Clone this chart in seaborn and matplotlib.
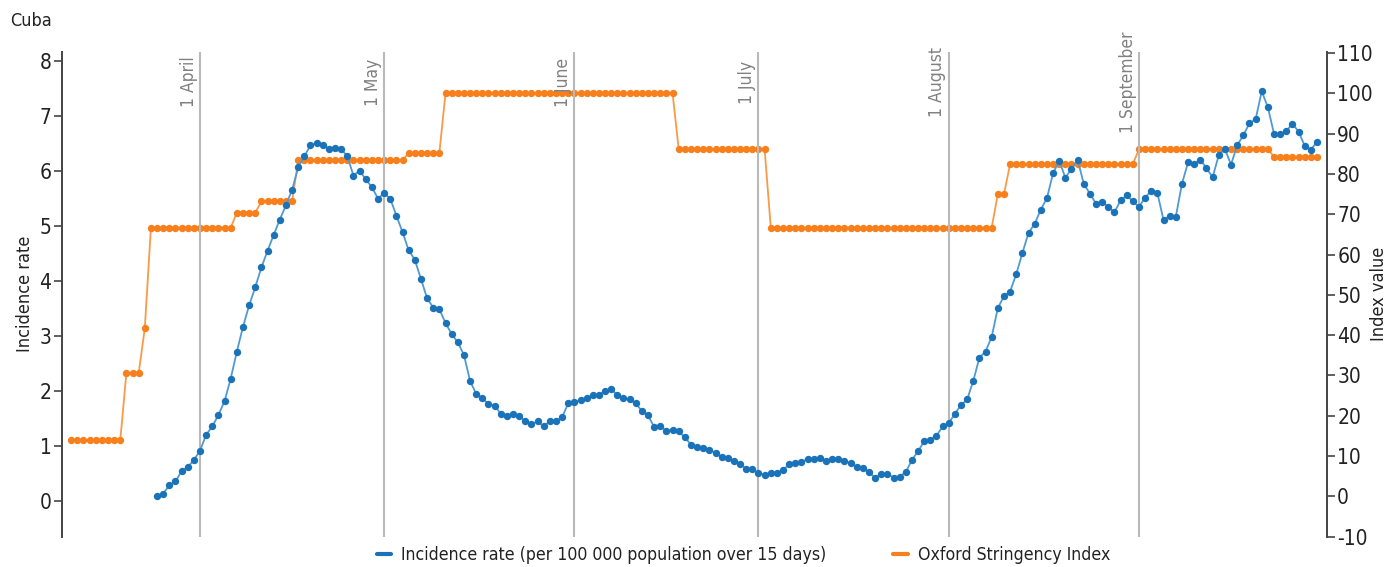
import pandas as pd
import numpy as np
import matplotlib
matplotlib.use("Agg")
import matplotlib.pyplot as plt
import matplotlib.transforms as mtransforms
from matplotlib.lines import Line2D
import seaborn as sns

# incidence rate per 100 000 over 15 days, daily from 25 March
incidence = [
    0.10, 0.14, 0.29, 0.36, 0.55, 0.62, 0.75, 0.92, 1.21, 1.36,
    1.57, 1.82, 2.23, 2.72, 3.17, 3.56, 3.89, 4.25, 4.55, 4.84,
    5.12, 5.38, 5.66, 6.07, 6.27, 6.47, 6.51, 6.48, 6.41, 6.42,
    6.40, 6.27, 5.92, 6.01, 5.85, 5.71, 5.50, 5.60, 5.50, 5.19,
    4.89, 4.56, 4.39, 4.04, 3.69, 3.52, 3.49, 3.24, 3.04, 2.89,
    2.66, 2.19, 1.95, 1.87, 1.77, 1.74, 1.59, 1.55, 1.58, 1.55,
    1.45, 1.40, 1.45, 1.36, 1.46, 1.45, 1.53, 1.78, 1.81, 1.84,
    1.87, 1.93, 1.93, 2.01, 2.04, 1.93, 1.87, 1.85, 1.78, 1.64,
    1.56, 1.35, 1.36, 1.28, 1.30, 1.27, 1.16, 1.03, 0.98, 0.97,
    0.94, 0.88, 0.80, 0.79, 0.73, 0.68, 0.59, 0.58, 0.51, 0.48,
    0.52, 0.52, 0.57, 0.67, 0.70, 0.71, 0.77, 0.76, 0.79, 0.73,
    0.76, 0.76, 0.73, 0.69, 0.63, 0.61, 0.54, 0.42, 0.50, 0.50,
    0.43, 0.45, 0.53, 0.75, 0.91, 1.09, 1.12, 1.19, 1.36, 1.42,
    1.59, 1.75, 1.85, 2.19, 2.61, 2.72, 2.99, 3.51, 3.73, 3.81,
    4.13, 4.51, 4.88, 5.04, 5.30, 5.51, 5.96, 6.19, 5.88, 6.04,
    6.21, 5.77, 5.59, 5.41, 5.44, 5.35, 5.25, 5.47, 5.56, 5.45,
    5.35, 5.52, 5.64, 5.60, 5.11, 5.19, 5.17, 5.77, 6.16, 6.13,
    6.21, 6.05, 5.89, 6.29, 6.40, 6.12, 6.47, 6.65, 6.87, 6.94,
    7.45, 7.16, 6.68, 6.67, 6.73, 6.86, 6.72, 6.46, 6.39, 6.53,
]
incidence_start = "2020-03-25"

# Oxford stringency index, daily from 11 March, as (level, number of days)
stringency_levels = [13.89, 30.56, 41.67, 66.67, 70.37, 73.15, 83.33, 85.19,
                     100.0, 86.11, 66.67, 75.00, 82.41, 86.11, 84.26]
stringency_days = [9, 3, 1, 14, 4, 6, 18, 6, 38, 15, 37, 2, 21, 22, 8]
stringency_start = "2020-03-11"

month_starts = ["2020-04-01", "2020-05-01", "2020-06-01",
                "2020-07-01", "2020-08-01", "2020-09-01"]
month_labels = ["1 April", "1 May", "1 June", "1 July", "1 August", "1 September"]

inc_df = pd.DataFrame({
    "date": pd.date_range(incidence_start, periods=len(incidence), freq="D"),
    "value": incidence,
})
osi = np.repeat(stringency_levels, stringency_days)
osi_df = pd.DataFrame({
    "date": pd.date_range(stringency_start, periods=len(osi), freq="D"),
    "value": osi,
})

sns.set_style("white")
plt.rcParams["font.family"] = ["DejaVu Sans"]
plt.rcParams["font.stretch"] = "condensed"
plt.rcParams["axes.unicode_minus"] = False

blue = "#1a73b9"
blue_line = "#4f9ad4"
orange = "#f7801d"
orange_line = "#f99a48"
txt = "#222222"

fig = plt.figure(figsize=(13.95, 5.67), dpi=100)
ax = fig.add_axes([0.0444, 0.0534, 0.9067, 0.8554])
ax2 = ax.twinx()

sns.lineplot(data=osi_df, x="date", y="value", ax=ax2, color=orange_line, lw=1.3,
             marker="o", markersize=5.3, markerfacecolor=orange, markeredgecolor=orange,
             markeredgewidth=0)
sns.lineplot(data=inc_df, x="date", y="value", ax=ax, color=blue_line, lw=1.3,
             marker="o", markersize=5.3, markerfacecolor=blue, markeredgecolor=blue,
             markeredgewidth=0)

# put the incidence series above the index series
ax.set_zorder(ax2.get_zorder() + 1)
ax.patch.set_visible(False)

trans = mtransforms.blended_transform_factory(ax.transData, ax.transAxes)
for d, lab in zip(month_starts, month_labels):
    ax.axvline(pd.Timestamp(d), color="#b9b9b9", lw=1.5, zorder=0)
    ax.text(pd.Timestamp(d) - pd.Timedelta(days=0.4), 0.9375, lab, transform=trans,
            rotation=90, ha="right", va="center", color="#808080", fontsize=12.5)

ax.set_xlim(pd.Timestamp("2020-04-01") - pd.Timedelta(days=22.5),
            pd.Timestamp("2020-04-01") + pd.Timedelta(days=183.6))
ax.set_ylim(-0.644, 8.17)
ax2.set_ylim(-10, 110.3)
ax.set_yticks(range(0, 9))
ax2.set_yticks(range(-10, 111, 10))
ax.set_xticks([])
ax.set_xlabel("")
ax2.set_xlabel("")

ax.set_ylabel("Incidence rate", fontsize=13, color=txt, labelpad=4)
ax2.set_ylabel("Index value", fontsize=13, color=txt, labelpad=-2)

for a in (ax, ax2):
    for s in ("top", "bottom"):
        a.spines[s].set_visible(False)
    a.tick_params(axis="y", length=6, width=1.2, color="#444444",
                  labelsize=15, labelcolor=txt, pad=1.5)
ax.spines["left"].set_visible(True)
ax.spines["left"].set_color("#444444")
ax.spines["left"].set_linewidth(1.4)
ax.spines["right"].set_visible(False)
ax2.spines["left"].set_visible(False)
ax2.spines["right"].set_color("#444444")
ax2.spines["right"].set_linewidth(1.4)
ax.tick_params(axis="y", left=True)
ax2.tick_params(axis="y", right=True)

fig.text(0.007, 0.963, "Cuba", fontsize=13, color=txt, va="center", ha="left")

handles = [Line2D([], [], color=blue, lw=3),
           Line2D([], [], color=orange, lw=3)]
fig.legend(handles, ["Incidence rate (per 100 000 population over 15 days)",
                     "Oxford Stringency Index"],
           loc="center", bbox_to_anchor=(0.533, 0.021), ncol=2, frameon=False,
           fontsize=12.7, handlelength=0.8, handletextpad=0.6, columnspacing=3.8,
           labelcolor=txt)

fig.savefig("out.png", dpi=100)
